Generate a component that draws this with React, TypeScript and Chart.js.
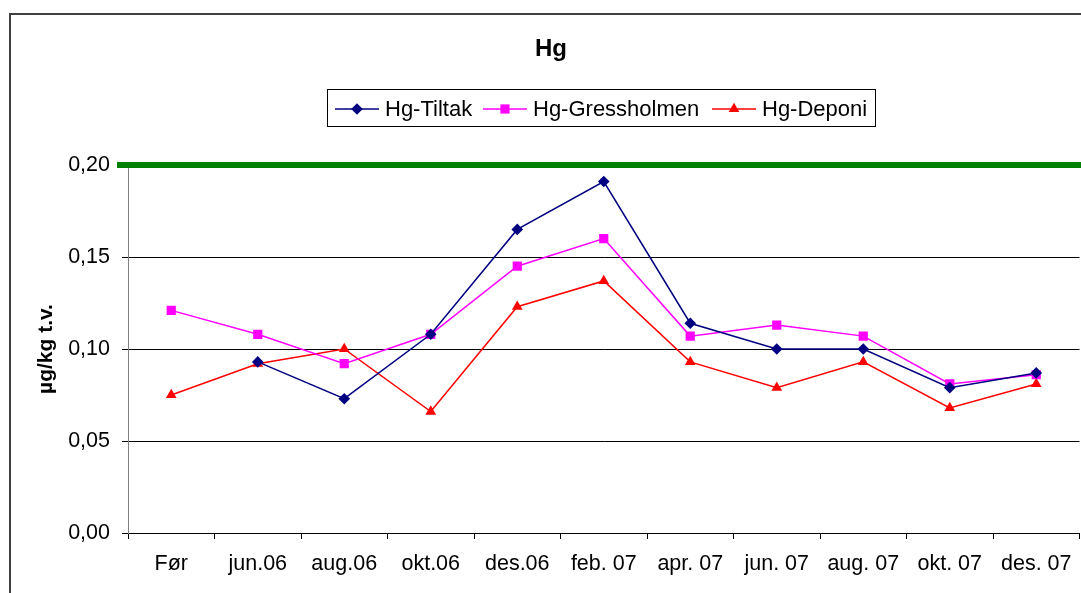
import React, { useEffect, useRef } from "react";
import { Chart, registerables } from "chart.js";

Chart.register(...registerables);

const categories = ["Før", "jun.06", "aug.06", "okt.06", "des.06", "feb. 07", "apr. 07", "jun. 07", "aug. 07", "okt. 07", "des. 07"];
const tiltak = [null, 0.093, 0.073, 0.108, 0.165, 0.191, 0.114, 0.1, 0.1, 0.079, 0.087];
const gressholmen = [0.121, 0.108, 0.092, 0.108, 0.145, 0.16, 0.107, 0.113, 0.107, 0.081, 0.086];
const deponi = [0.075, 0.092, 0.1, 0.066, 0.123, 0.137, 0.093, 0.079, 0.093, 0.068, 0.081];
const seriesNames = ["Hg-Tiltak", "Hg-Gressholmen", "Hg-Deponi"];
const limitValue = 0.2;
const yTicks = [0, 0.05, 0.1, 0.15, 0.2];
const chartTitle = "Hg";
const yAxisTitle = "µg/kg t.v.";

const FONT = "'Liberation Sans', Arial, sans-serif";
const colors = ["#000080", "#FF00FF", "#FF0000"];
const styles = ["rectRot", "rect", "triangle"];
const radii = [5.8, 6.5, 6.2];

function drawMarker(ctx: CanvasRenderingContext2D, style: string, x: number, y: number, r: number, color: string) {
  ctx.save();
  ctx.fillStyle = color;
  ctx.beginPath();
  if (style === "rectRot") {
    ctx.moveTo(x, y - r);
    ctx.lineTo(x + r, y);
    ctx.lineTo(x, y + r);
    ctx.lineTo(x - r, y);
    ctx.closePath();
  } else if (style === "rect") {
    const s = r * Math.SQRT1_2;
    ctx.rect(x - s, y - s, 2 * s, 2 * s);
  } else {
    const h = r * 1.5;
    const w = r * Math.sqrt(3);
    ctx.moveTo(x, y - r);
    ctx.lineTo(x + w / 2, y - r + h);
    ctx.lineTo(x - w / 2, y - r + h);
    ctx.closePath();
  }
  ctx.fill();
  ctx.restore();
}

const decorPlugin = {
  id: "decor",
  beforeDatasetsDraw(chart: any) {
    const ctx = chart.ctx;
    const y = chart.scales.y.getPixelForValue(limitValue);
    ctx.save();
    ctx.strokeStyle = "#008000";
    ctx.lineWidth = 6;
    ctx.beginPath();
    ctx.moveTo(chart.chartArea.left - 11, y);
    ctx.lineTo(chart.width + 5, y);
    ctx.stroke();
    ctx.restore();
  },
  afterDraw(chart: any) {
    const ctx: CanvasRenderingContext2D = chart.ctx;
    ctx.save();
    // chart frame
    ctx.strokeStyle = "#404040";
    ctx.lineWidth = 2;
    ctx.beginPath();
    ctx.moveTo(10, chart.height + 5);
    ctx.lineTo(10, 14);
    ctx.lineTo(chart.width + 5, 14);
    ctx.stroke();
    // title
    ctx.fillStyle = "#000";
    ctx.font = `bold 24px ${FONT}`;
    ctx.textAlign = "center";
    ctx.textBaseline = "alphabetic";
    ctx.fillText(chartTitle, 551, 56);
    // legend
    ctx.strokeStyle = "#000";
    ctx.lineWidth = 1;
    ctx.strokeRect(327.5, 89.5, 548, 37);
    const starts = [335, 483, 712];
    const ly = 109;
    ctx.font = `22px ${FONT}`;
    ctx.textAlign = "left";
    for (let i = 0; i < seriesNames.length; i++) {
      const x0 = starts[i];
      ctx.strokeStyle = colors[i];
      ctx.lineWidth = 1.5;
      ctx.beginPath();
      ctx.moveTo(x0, ly);
      ctx.lineTo(x0 + 44, ly);
      ctx.stroke();
      drawMarker(ctx, styles[i], x0 + 22, ly, radii[i], colors[i]);
      ctx.fillStyle = "#000";
      ctx.fillText(seriesNames[i], x0 + 50, 115.5);
    }
    ctx.restore();
  },
};

const zeroPadding = (s: any) => {
  s.paddingLeft = 0;
  s.paddingRight = 0;
  s.paddingTop = 0;
  s.paddingBottom = 0;
};

export default function App() {
  const canvasRef = useRef<HTMLCanvasElement | null>(null);

  useEffect(() => {
    if (!canvasRef.current) return;
    Chart.defaults.font.family = FONT;
    const seriesData = [tiltak, gressholmen, deponi];
    const chart = new Chart(canvasRef.current, {
      type: "line",
      data: {
        labels: categories,
        datasets: seriesNames.map((name, i) => ({
          label: name,
          data: seriesData[i],
          borderColor: colors[i],
          backgroundColor: colors[i],
          borderWidth: 1.5,
          pointStyle: styles[i] as any,
          pointRadius: radii[i],
          pointBorderWidth: 0,
          pointBackgroundColor: colors[i],
          pointBorderColor: colors[i],
          tension: 0,
          fill: false,
          spanGaps: false,
        })),
      },
      options: {
        animation: false,
        responsive: false,
        maintainAspectRatio: false,
        layout: { padding: { top: 165, right: 1, bottom: 0, left: 0 } },
        plugins: {
          legend: { display: false },
          title: { display: false },
          tooltip: { enabled: false },
        },
        scales: {
          x: {
            type: "category",
            offset: true,
            grid: { offset: true, drawOnChartArea: false, drawTicks: true, tickLength: 6, color: "#000", lineWidth: 1 },
            border: { color: "#000", width: 1 },
            ticks: { color: "#000", font: { size: 21.5 }, padding: 12, maxRotation: 0, autoSkip: false },
            afterFit: (s: any) => {
              s.height = 60;
              zeroPadding(s);
            },
          },
          y: {
            min: 0,
            max: 0.2,
            afterBuildTicks: (s: any) => {
              s.ticks = yTicks.map((v) => ({ value: v }));
            },
            grid: {
              color: (c: any) => (c.tick && Math.abs(c.tick.value - limitValue) < 1e-9 ? "rgba(0,0,0,0)" : "#000"),
              tickLength: 6,
              lineWidth: 1,
            },
            border: { color: "#808080", width: 1 },
            ticks: {
              color: "#000",
              font: { size: 21.5 },
              padding: 12,
              callback: (v: any) => Number(v).toFixed(2).replace(".", ","),
            },
            title: {
              display: true,
              text: yAxisTitle,
              color: "#000",
              font: { size: 21, weight: "bold" },
              padding: { top: 34, bottom: 0 },
            },
            afterFit: (s: any) => {
              s.width = 128;
              zeroPadding(s);
            },
          },
        },
      },
      plugins: [decorPlugin],
    });
    return () => chart.destroy();
  }, []);

  return (
    <div style={{ position: "fixed", left: 0, top: 0, width: 1081, height: 593, background: "#fff", overflow: "hidden" }}>
      <canvas ref={canvasRef} width={1086} height={593} style={{ display: "block" }} />
    </div>
  );
}
